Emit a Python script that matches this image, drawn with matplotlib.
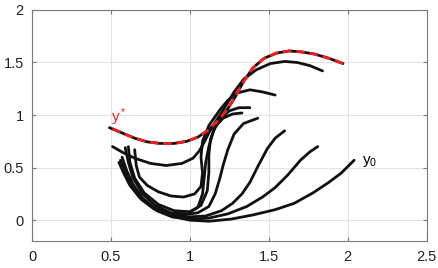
import numpy as np
import matplotlib
matplotlib.use('Agg')
import matplotlib.pyplot as plt

plt.rcParams['font.family'] = ['Liberation Sans', 'DejaVu Sans']
plt.rcParams['mathtext.default'] = 'regular'

# optimal trajectory y*
ystar_x = [0.51, 0.57, 0.65, 0.73, 0.81, 0.90, 0.98, 1.05, 1.12, 1.18, 1.24, 1.29,
           1.34, 1.40, 1.47, 1.55, 1.63, 1.71, 1.79, 1.88, 1.97]
ystar_y = [0.87, 0.83, 0.78, 0.745, 0.73, 0.73, 0.75, 0.79, 0.86, 0.95, 1.06, 1.18,
           1.32, 1.45, 1.54, 1.59, 1.61, 1.60, 1.58, 1.54, 1.49]

# black trajectories, one (x, y) pair per curve
traj_x = [
    [0.49, 0.57, 0.65, 0.73, 0.81, 0.90, 0.98, 1.05, 1.12, 1.18, 1.24, 1.29, 1.34,
     1.40, 1.47, 1.55, 1.63, 1.71, 1.79, 1.88, 1.97],
    [0.51, 0.58, 0.65, 0.75, 0.85, 0.95, 1.02, 1.06, 1.09, 1.12, 1.16, 1.22, 1.28,
     1.34, 1.42, 1.51, 1.60, 1.68, 1.76, 1.84],
    [0.65, 0.66, 0.68, 0.73, 0.80, 0.88, 0.96, 1.03, 1.07, 1.08, 1.07, 1.08, 1.12,
     1.19, 1.24, 1.30, 1.38, 1.46, 1.54],
    [0.59, 0.61, 0.64, 0.70, 0.78, 0.88, 0.98, 1.05, 1.08, 1.09, 1.10, 1.12, 1.15,
     1.19, 1.25, 1.31, 1.38],
    [0.61, 0.62, 0.65, 0.71, 0.80, 0.90, 1.00, 1.07, 1.11, 1.12, 1.12, 1.13, 1.16,
     1.21, 1.27, 1.33],
    [0.55, 0.58, 0.62, 0.68, 0.76, 0.86, 0.96, 1.05, 1.12, 1.16, 1.19, 1.21, 1.24,
     1.28, 1.34, 1.43],
    [0.56, 0.59, 0.63, 0.69, 0.77, 0.87, 0.98, 1.10, 1.20, 1.27, 1.33, 1.38, 1.43,
     1.49, 1.54, 1.60],
    [0.58, 0.61, 0.65, 0.71, 0.79, 0.89, 1.00, 1.12, 1.24, 1.36, 1.46, 1.54, 1.62,
     1.70, 1.76, 1.81],
    [0.57, 0.60, 0.64, 0.70, 0.78, 0.88, 1.00, 1.12, 1.26, 1.40, 1.54, 1.66, 1.78,
     1.88, 1.96, 2.04],
]
traj_y = [
    [0.88, 0.83, 0.78, 0.745, 0.73, 0.73, 0.75, 0.79, 0.86, 0.95, 1.06, 1.18, 1.32,
     1.45, 1.54, 1.59, 1.61, 1.60, 1.58, 1.54, 1.49],
    [0.70, 0.64, 0.59, 0.54, 0.52, 0.54, 0.59, 0.66, 0.74, 0.83, 0.93, 1.07, 1.22,
     1.34, 1.43, 1.49, 1.51, 1.50, 1.47, 1.42],
    [0.67, 0.52, 0.41, 0.33, 0.27, 0.23, 0.22, 0.25, 0.32, 0.45, 0.60, 0.75, 0.90,
     1.05, 1.14, 1.21, 1.24, 1.22, 1.19],
    [0.69, 0.55, 0.40, 0.25, 0.14, 0.07, 0.06, 0.12, 0.25, 0.40, 0.55, 0.70, 0.85,
     0.96, 1.04, 1.07, 1.07],
    [0.70, 0.55, 0.40, 0.26, 0.15, 0.09, 0.08, 0.14, 0.28, 0.45, 0.62, 0.77, 0.89,
     0.97, 1.01, 1.02],
    [0.55, 0.45, 0.33, 0.22, 0.13, 0.07, 0.05, 0.07, 0.13, 0.25, 0.40, 0.52, 0.67,
     0.82, 0.92, 0.97],
    [0.57, 0.45, 0.32, 0.20, 0.11, 0.05, 0.03, 0.04, 0.09, 0.16, 0.25, 0.36, 0.51,
     0.68, 0.78, 0.85],
    [0.52, 0.40, 0.29, 0.18, 0.09, 0.03, 0.01, 0.02, 0.06, 0.13, 0.22, 0.31, 0.43,
     0.57, 0.65, 0.70],
    [0.60, 0.47, 0.34, 0.21, 0.11, 0.04, 0.00, -0.01, 0.01, 0.05, 0.10, 0.16, 0.26,
     0.36, 0.45, 0.57],
]

xticks = [0, 0.5, 1, 1.5, 2, 2.5]
yticks = [0, 0.5, 1, 1.5, 2]

fig = plt.figure(figsize=(4.39, 2.68), dpi=100)
ax = fig.add_axes([0.073, 0.1, 0.899, 0.863])

for xs, ys in zip(traj_x, traj_y):
    ax.plot(xs, ys, color='#111111', lw=2.0, solid_capstyle='round',
            solid_joinstyle='round')
ax.plot(ystar_x, ystar_y, color='#ff1a1a', lw=2.0, dashes=(3, 1.8))

ax.text(0.50, 0.98, 'y$^*$', color='#ff1a1a', fontsize=11, va='center')
ax.text(2.09, 0.56, 'y$_0$', color='black', fontsize=11, va='center')

ax.set_xlim(0, 2.5)
ax.set_ylim(-0.2, 2)
ax.set_xticks(xticks)
ax.set_yticks(yticks)
ax.set_xticklabels(['0', '0.5', '1', '1.5', '2', '2.5'])
ax.set_yticklabels(['0', '0.5', '1', '1.5', '2'])
ax.grid(True, color='#e3e3e3', lw=0.8)
ax.set_axisbelow(True)
for s in ax.spines.values():
    s.set_color('#7a7a7a')
    s.set_linewidth(0.8)
ax.tick_params(direction='in', length=3, width=0.8, color='#7a7a7a',
               top=True, right=True, labelsize=10.5, labelcolor='#222222', pad=6)

fig.savefig('out.png', dpi=100)
